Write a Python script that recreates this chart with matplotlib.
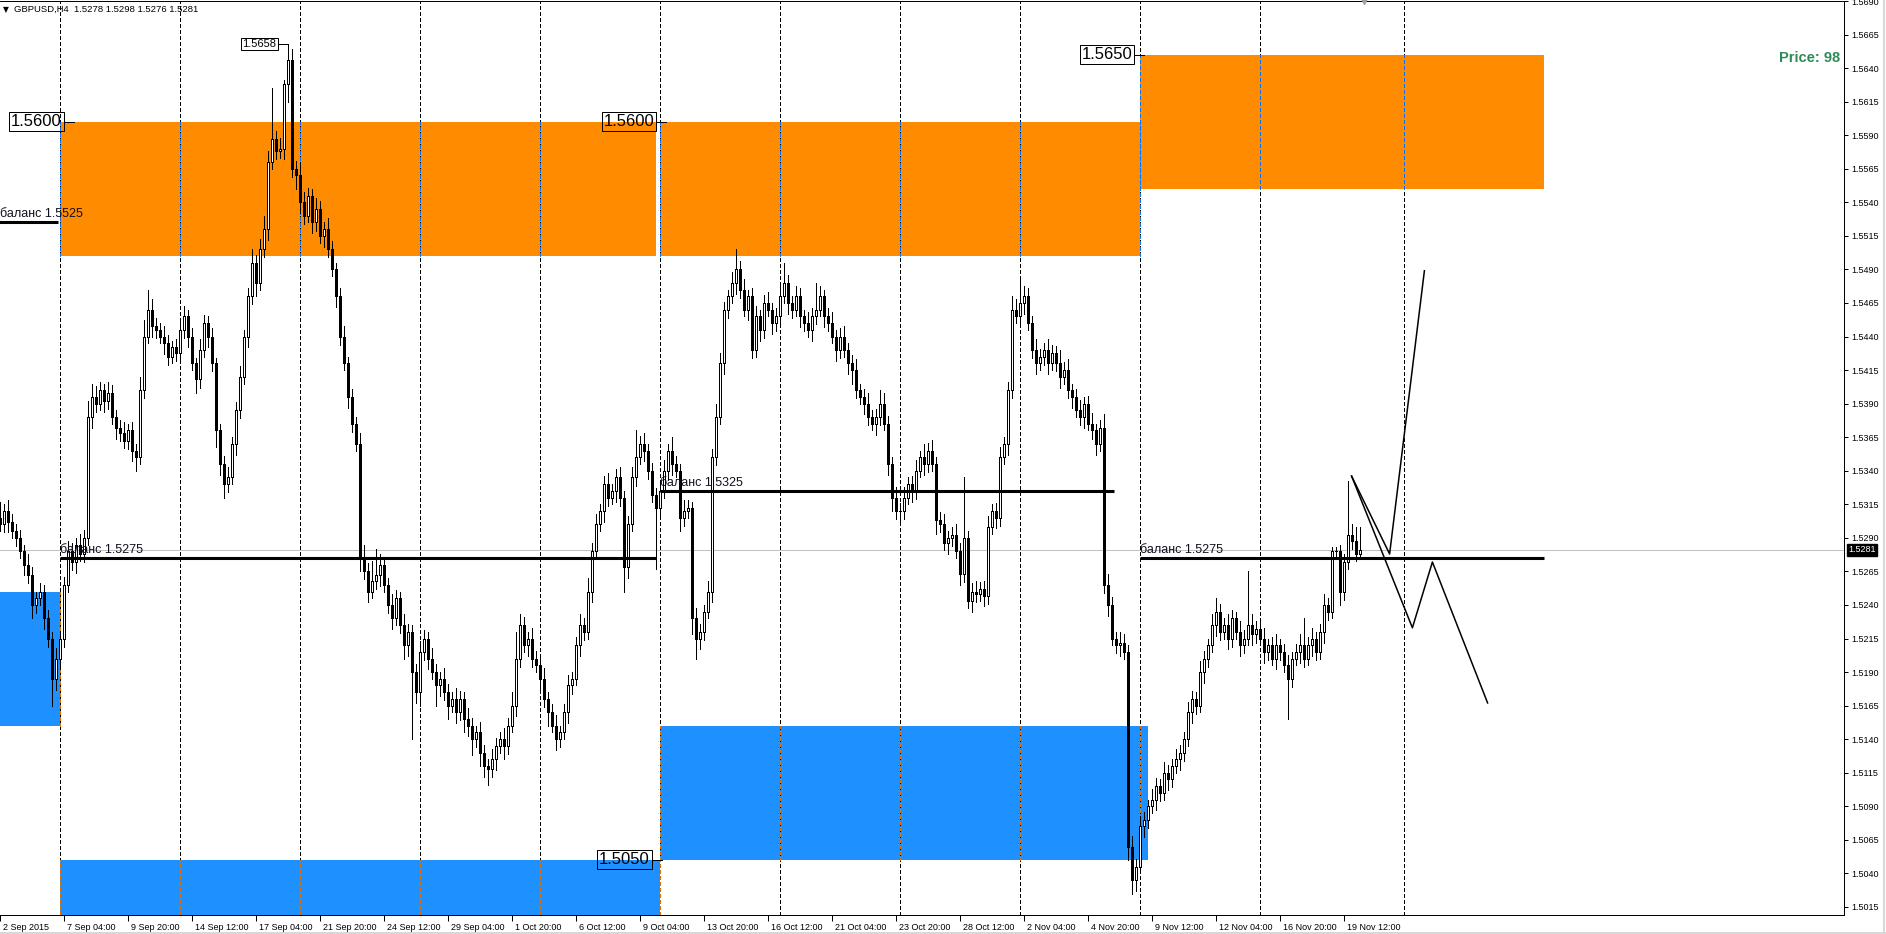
import numpy as np
import matplotlib
matplotlib.use('Agg')
import matplotlib.pyplot as plt
from matplotlib.patches import Rectangle
from matplotlib.lines import Line2D
from matplotlib.transforms import ScaledTranslation, blended_transform_factory

plt.rcParams['font.family'] = ['Liberation Sans', 'DejaVu Sans']

# ---------------- data (prices in pips above 1.5000) ----------------
BASE = 1.5
PIP = 0.0001
first_open = 305

close_w0 = [300, 310, 302, 295, 290, 280, 270, 262, 240, 245, 250, 230, 215, 185, 200]
up_w0 = [12, 5, 8, 6, 5, 6, 5, 8, 6, 5, 6, 5, 6, 5, 8]
dn_w0 = [5, 6, 8, 5, 6, 5, 8, 6, 10, 6, 5, 8, 6, 20, 8]

close_w1 = [215, 255, 280, 272, 285, 278, 290, 380, 395, 390, 400, 392, 398, 380, 372,
            368, 362, 370, 355, 350, 400, 440, 460, 448, 445, 440, 435, 425, 432, 428]
up_w1 = [5, 6, 8, 6, 5, 8, 6, 12, 10, 8, 6, 5, 8, 6, 5, 6, 8, 5, 6, 5, 10, 12, 15, 8, 6, 5, 8, 6, 5, 6]
dn_w1 = [8, 6, 5, 6, 8, 5, 6, 5, 8, 6, 5, 8, 6, 5, 8, 6, 5, 6, 8, 10, 5, 6, 5, 8, 6, 5, 8, 6, 5, 6]

close_w2 = [445, 455, 440, 420, 408, 430, 450, 440, 420, 370, 345, 330, 335, 360, 385,
            410, 440, 470, 495, 480, 505, 520, 570, 587, 578, 580, 628, 646, 565, 560]
up_w2 = [6, 8, 5, 6, 4, 8, 6, 5, 6, 4, 5, 6, 8, 5, 6, 8, 5, 6, 10, 6, 8, 10, 8, 38, 6, 8, 3, 12, 8, 6]
dn_w2 = [5, 6, 8, 5, 10, 6, 5, 8, 6, 12, 8, 10, 6, 5, 8, 6, 5, 8, 6, 10, 5, 6, 8, 5, 6, 5, 8, 13, 6, 10]

close_w3 = [540, 530, 545, 525, 535, 515, 520, 505, 490, 470, 440, 420, 395, 375, 360,
            275, 265, 250, 258, 262, 270, 255, 240, 230, 245, 225, 210, 220, 190, 175]
up_w3 = [10, 8, 6, 5, 8, 6, 5, 8, 6, 5, 6, 8, 5, 6, 5, 8, 10, 6, 15, 20, 8, 6, 5, 8, 6, 5, 8, 6, 5, 6]
dn_w3 = [8, 6, 5, 8, 6, 5, 8, 6, 5, 8, 6, 5, 8, 6, 5, 10, 6, 8, 5, 6, 8, 5, 6, 8, 5, 6, 10, 8, 50, 8]

close_w4 = [205, 215, 200, 190, 180, 185, 175, 165, 170, 160, 170, 155, 150, 140, 145,
            130, 120, 118, 125, 135, 140, 135, 150, 165, 200, 225, 210, 215, 200, 195]
up_w4 = [8, 6, 5, 8, 6, 5, 8, 6, 5, 8, 6, 5, 8, 6, 5, 8, 6, 5, 8, 6, 5, 8, 6, 10, 20, 8, 6, 5, 8, 6]
dn_w4 = [10, 6, 8, 5, 15, 8, 6, 10, 5, 8, 6, 10, 8, 12, 6, 10, 8, 12, 6, 8, 5, 10, 6, 5, 8, 6, 5, 8, 6, 5]

close_w5 = [185, 170, 160, 150, 140, 145, 160, 180, 185, 210, 225, 220, 250, 280, 300,
            310, 330, 320, 325, 335, 320, 268, 300, 335, 350, 360, 355, 340, 322, 312]
up_w5 = [6, 8, 5, 6, 8, 5, 6, 8, 5, 6, 8, 5, 10, 6, 8, 5, 6, 8, 5, 6, 8, 5, 6, 8, 20, 6, 8, 5, 6, 5]
dn_w5 = [8, 6, 10, 5, 8, 6, 5, 8, 6, 5, 8, 6, 5, 8, 6, 5, 8, 6, 5, 8, 6, 18, 8, 5, 6, 5, 8, 6, 5, 45]

close_w6 = [325, 340, 355, 345, 340, 305, 310, 312, 230, 215, 220, 235, 250, 350, 380,
            420, 460, 470, 480, 490, 475, 460, 470, 430, 455, 445, 465, 460, 450, 455]
up_w6 = [6, 8, 5, 10, 6, 5, 8, 6, 5, 8, 6, 5, 8, 6, 10, 8, 6, 5, 8, 15, 6, 8, 5, 6, 8, 5, 6, 8, 5, 6]
dn_w6 = [8, 5, 6, 8, 5, 10, 6, 5, 12, 15, 8, 6, 5, 8, 6, 5, 8, 6, 5, 8, 6, 5, 8, 6, 5, 8, 6, 5, 8, 6]

close_w7 = [470, 480, 465, 460, 470, 455, 450, 445, 455, 460, 470, 455, 450, 440, 430,
            440, 430, 420, 415, 400, 395, 390, 380, 375, 380, 390, 375, 345, 320, 310]
up_w7 = [8, 15, 6, 5, 8, 6, 5, 8, 6, 20, 8, 5, 6, 8, 5, 6, 8, 5, 6, 8, 5, 6, 8, 5, 6, 10, 8, 6, 5, 8]
dn_w7 = [6, 5, 8, 6, 5, 8, 6, 5, 8, 6, 5, 8, 6, 5, 8, 6, 5, 8, 10, 6, 5, 8, 6, 5, 8, 6, 5, 8, 10, 6]

close_w8 = [310, 320, 330, 325, 340, 350, 345, 355, 345, 303, 300, 286, 290, 292, 280,
            263, 290, 243, 250, 248, 252, 247, 298, 310, 305, 350, 360, 400, 460, 455]
up_w8 = [6, 8, 5, 6, 8, 5, 10, 6, 8, 5, 6, 8, 5, 6, 8, 6, 45, 5, 6, 8, 5, 6, 8, 5, 6, 8, 5, 6, 10, 8]
dn_w8 = [8, 6, 5, 8, 6, 5, 8, 6, 5, 10, 6, 5, 8, 6, 5, 8, 6, 5, 8, 6, 5, 8, 6, 5, 8, 6, 5, 8, 6, 5]

close_w9 = [465, 470, 450, 430, 420, 425, 430, 420, 428, 420, 410, 415, 400, 395, 385,
            380, 390, 375, 370, 360, 372, 255, 240, 215, 210, 212, 205, 60, 35, 45]
up_w9 = [20, 8, 6, 5, 8, 6, 5, 8, 6, 5, 10, 6, 8, 5, 6, 8, 5, 6, 8, 5, 6, 10, 8, 6, 5, 8, 6, 5, 8, 6]
dn_w9 = [6, 8, 5, 6, 8, 5, 6, 8, 5, 6, 8, 5, 6, 8, 5, 6, 8, 5, 6, 8, 5, 6, 8, 5, 6, 8, 5, 10, 10, 8]

close_w10 = [75, 80, 90, 95, 105, 100, 115, 110, 120, 125, 130, 140, 160, 170, 165,
             190, 200, 210, 225, 235, 220, 225, 215, 230, 220, 210, 215, 225, 218, 222]
up_w10 = [8, 6, 5, 8, 6, 5, 8, 6, 5, 8, 6, 5, 8, 6, 5, 8, 6, 5, 8, 10, 6, 5, 8, 6, 5, 8, 6, 40, 8, 6]
dn_w10 = [5, 8, 6, 5, 8, 6, 5, 8, 6, 5, 8, 6, 5, 8, 6, 5, 8, 6, 5, 8, 6, 5, 8, 6, 5, 8, 6, 5, 8, 6]

close_w11 = [215, 205, 210, 200, 210, 205, 195, 185, 200, 205, 210, 200, 210, 215, 205,
             220, 240, 235, 280, 280, 250, 272, 292, 288, 278, 281]
up_w11 = [6, 8, 5, 6, 8, 5, 6, 8, 5, 6, 8, 20, 6, 8, 5, 6, 8, 5, 3, 3, 5, 6, 40, 8, 10, 17]
dn_w11 = [5, 8, 6, 5, 8, 6, 5, 30, 6, 5, 8, 6, 5, 8, 6, 5, 8, 6, 5, 5, 10, 6, 5, 6, 5, 2]

# time axis labels (one every 16 H4 bars)
xtick_labels = ['2 Sep 2015', '7 Sep 04:00', '9 Sep 20:00', '14 Sep 12:00', '17 Sep 04:00',
                '21 Sep 20:00', '24 Sep 12:00', '29 Sep 04:00', '1 Oct 20:00', '6 Oct 12:00',
                '9 Oct 04:00', '13 Oct 20:00', '16 Oct 12:00', '21 Oct 04:00', '23 Oct 20:00',
                '28 Oct 12:00', '2 Nov 04:00', '4 Nov 20:00', '9 Nov 12:00', '12 Nov 04:00',
                '16 Nov 20:00', '19 Nov 12:00']
label_step = 16

# weekly separators (bar index)
week_starts = [15, 45, 75, 105, 135, 165, 195, 225, 255, 285, 315, 351]

# zones: (start bar, end bar, low, high)
orange_zones = [(15, 164, 1.5500, 1.5600), (165, 285, 1.5500, 1.5600), (285, 386, 1.5550, 1.5650)]
blue_zones = [(-3, 15, 1.5150, 1.5250), (15, 165, 1.4950, 1.5050), (165, 287, 1.5050, 1.5150)]

# balance lines: (start bar, end bar, level)
balance_lines = [(-3, 14.6, 1.5525), (15, 164, 1.5275), (165, 278.6, 1.5325), (285, 386, 1.5275)]

# price tags: (text, anchor bar, price, fontsize)
price_tags = [('1.5600', 18.4, 1.5600, 12), ('1.5658', 72.1, 1.5658, 8),
              ('1.5600', 166.6, 1.5600, 12), ('1.5650', 286.1, 1.5650, 12),
              ('1.5050', 165.4, 1.5050, 12)]

# projected path lines
proj_a_x = [337.9, 347.4, 356.1]
proj_a_y = [1.5336, 1.5278, 1.5489]
proj_b_x = [337.9, 353.1, 358.1, 371.9]
proj_b_y = [1.5336, 1.5223, 1.5272, 1.5167]

current_price = 1.5281

# ---------------- build OHLC ----------------
closes_p = np.array(close_w0 + close_w1 + close_w2 + close_w3 + close_w4 + close_w5 +
                    close_w6 + close_w7 + close_w8 + close_w9 + close_w10 + close_w11, float)
ups = np.array(up_w0 + up_w1 + up_w2 + up_w3 + up_w4 + up_w5 + up_w6 + up_w7 +
               up_w8 + up_w9 + up_w10 + up_w11, float)
dns = np.array(dn_w0 + dn_w1 + dn_w2 + dn_w3 + dn_w4 + dn_w5 + dn_w6 + dn_w7 +
               dn_w8 + dn_w9 + dn_w10 + dn_w11, float)
opens_p = np.concatenate([[first_open], closes_p[:-1]])
o = BASE + opens_p * PIP
c = BASE + closes_p * PIP
h = np.maximum(o, c) + ups * PIP
l = np.minimum(o, c) - dns * PIP
x = np.arange(len(c))

# ---------------- figure ----------------
W, H = 1886, 934
PX = 72 / 100  # one pixel in points
fig = plt.figure(figsize=(W / 100, H / 100), dpi=100)
fig.patch.set_facecolor('white')
ax = fig.add_axes([0, 1 - 915 / H, 1844 / W, 914 / H])
ax.set_xlim(0, 461)
ax.set_ylim(1.5009, 1.5690)
ax.set_facecolor('white')

ax.spines['left'].set_visible(False)
for sp in ['top', 'right', 'bottom']:
    ax.spines[sp].set_linewidth(PX)
    ax.spines[sp].set_color('black')

ORANGE = '#FF8C00'
BLUE = '#1E90FF'
for (x0, x1, lo, hi) in orange_zones:
    ax.add_patch(Rectangle((x0, lo), x1 - x0, hi - lo, facecolor=ORANGE, edgecolor='none',
                           zorder=1, antialiased=False))
for (x0, x1, lo, hi) in blue_zones:
    ax.add_patch(Rectangle((x0, lo), x1 - x0, hi - lo, facecolor=BLUE, edgecolor='none',
                           zorder=1, antialiased=False))

dash = (0, (4, 2.5))
for xv in week_starts:
    ax.axvline(xv, color='black', lw=PX, ls=dash, zorder=2, antialiased=False)
    for (x0, x1, lo, hi) in orange_zones:
        if x0 <= xv <= x1:
            ax.vlines(xv, lo, hi, color='#0073FF', lw=PX, linestyles=dash, zorder=2.1,
                      antialiased=False)
    for (x0, x1, lo, hi) in blue_zones:
        if x0 <= xv <= x1:
            ax.vlines(xv, max(lo, 1.5009), hi, color='#E16F00', lw=PX, linestyles=dash,
                      zorder=2.1, antialiased=False)

ax.axhline(current_price, color='#C0C0C0', lw=PX, zorder=2.5)

# candles
bull = c >= o
ax.vlines(x, l, h, color='black', lw=PX, zorder=4, antialiased=False)
ax.bar(x[bull], (c - o)[bull], bottom=o[bull], width=0.5, facecolor='white',
       edgecolor='black', linewidth=PX, zorder=5, antialiased=False)
ax.bar(x[~bull], (o - c)[~bull], bottom=c[~bull], width=0.5, facecolor='black',
       edgecolor='black', linewidth=PX, zorder=5, antialiased=False)

# balance lines and labels
for (x0, x1, lvl) in balance_lines:
    ax.hlines(lvl, x0, x1, color='black', lw=2.2, zorder=6)
    tx = max(x0, 0)
    t = ax.text(tx, lvl, 'баланс %.4f' % lvl, fontsize=9, color='#101020',
                ha='left', va='baseline', zorder=7)
    t.set_transform(ax.transData + ScaledTranslation(0, 5 / 100, fig.dpi_scale_trans))

# price tags
for (txt, xa, pr, fs) in price_tags:
    ax.plot([xa - 10 / 4, xa], [pr, pr], color='black', lw=PX, zorder=7)
    t = ax.text(xa, pr, txt, fontsize=fs, color='black', ha='right', va='center', zorder=8,
                bbox=dict(boxstyle='square,pad=0.12', facecolor='none', edgecolor='black',
                          linewidth=PX))
    t.set_transform(ax.transData + ScaledTranslation(-12 / 100, 0, fig.dpi_scale_trans))

# projection lines
ax.plot(proj_a_x, proj_a_y, color='black', lw=1.1, zorder=7)
ax.plot(proj_b_x, proj_b_y, color='black', lw=1.1, zorder=7)

# axes ticks
yt = np.round(np.arange(1.5015, 1.56905, 0.0025), 4)
ax.yaxis.tick_right()
ax.set_yticks(yt)
ax.set_yticklabels(['%.4f' % v for v in yt])
ax.tick_params(axis='y', direction='out', length=3, width=PX, pad=2.5, labelsize=6.5,
               right=True, left=False, colors='black')

xt = np.arange(len(xtick_labels)) * label_step
ax.set_xticks(xt)
ax.set_xticklabels(xtick_labels)
ax.tick_params(axis='x', direction='out', length=4, width=PX, pad=1.5, labelsize=6.5)
for lbl in ax.get_xticklabels():
    lbl.set_horizontalalignment('left')
    lbl.set_transform(lbl.get_transform() + ScaledTranslation(3 / 100, 0, fig.dpi_scale_trans))

# current price label on the scale
bt = blended_transform_factory(ax.transAxes, ax.transData)
cp = ax.text(1.0, current_price, '%.4f' % current_price, transform=bt, fontsize=6.5,
             color='white', ha='left', va='center', zorder=10, clip_on=False,
             bbox=dict(boxstyle='square,pad=0.15', facecolor='black', edgecolor='black'))
cp.set_transform(bt + ScaledTranslation(4 / 100, 0, fig.dpi_scale_trans))

# chart shift marker
ax.plot([len(c)], [1.0], transform=blended_transform_factory(ax.transData, ax.transAxes),
        marker='v', color='#A0A0A0', markersize=5, clip_on=False, zorder=10)

# header and info text
fig.text(3 / W, 1 - 10 / H, '▼', fontsize=5.5, family=['DejaVu Sans'], va='center', ha='left')
fig.text(14 / W, 1 - 9 / H, 'GBPUSD,H4  1.5278 1.5298 1.5276 1.5281', fontsize=6.8,
         va='center', ha='left', color='black')
fig.text(1840 / W, 1 - 58 / H, 'Price: 98', fontsize=10.5, fontweight='bold',
         color='#2E8B57', ha='right', va='center')

# outer window borders
fig.add_artist(Line2D([0, 1], [1 - 932.5 / H] * 2, transform=fig.transFigure,
                      color='#D8D8D8', lw=1.5))
fig.add_artist(Line2D([1883.5 / W] * 2, [0, 1], transform=fig.transFigure,
                      color='#D8D8D8', lw=1.5))

fig.savefig('out.png', dpi=100)
